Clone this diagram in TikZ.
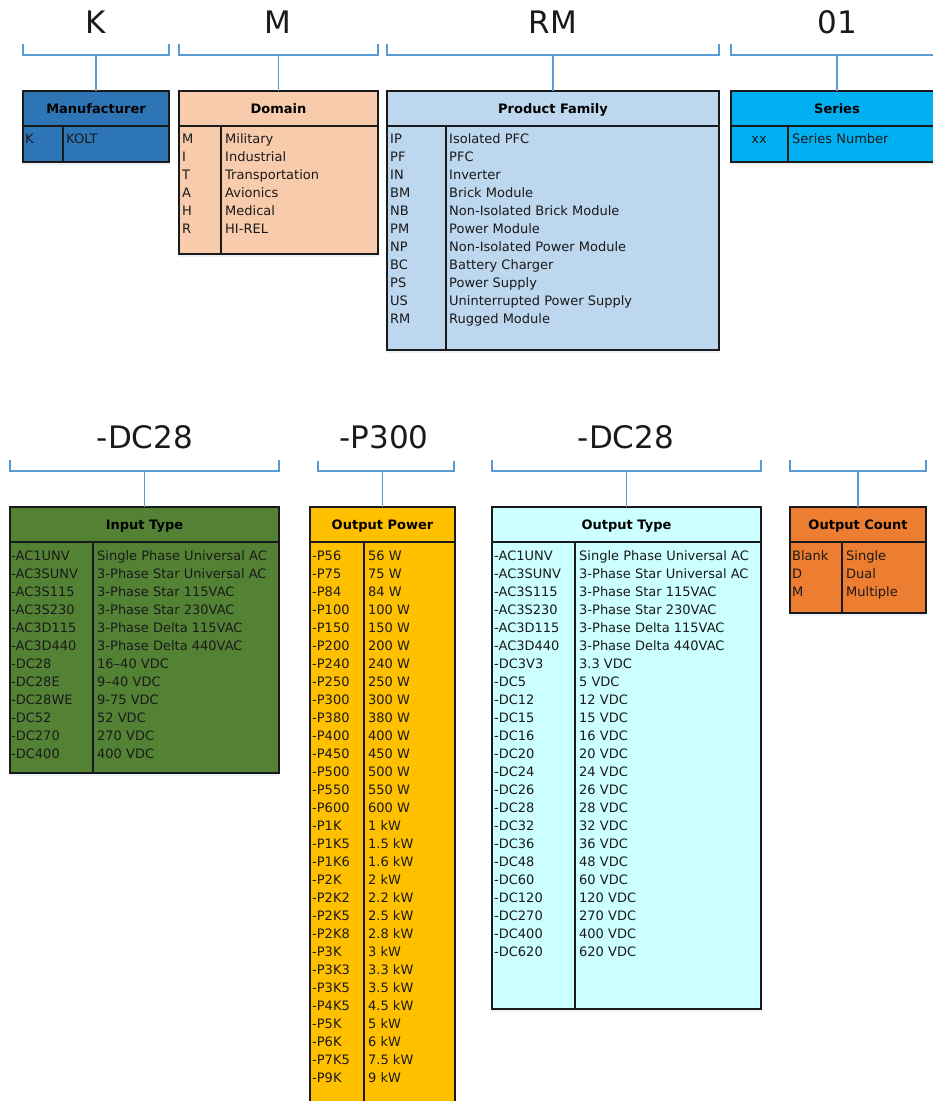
\documentclass[tikz,border=0pt]{standalone}
\usepackage{fontspec}
\setmainfont{DejaVu Sans}
\usetikzlibrary{positioning, shadows}

\definecolor{ink}{HTML}{1A1A1A}
\definecolor{edge}{HTML}{1A1A1A}
\definecolor{brk}{HTML}{5B9BD5}
\definecolor{mfrblue}{HTML}{2E75B6}
\definecolor{dompeach}{HTML}{F8CBAD}
\definecolor{famblue}{HTML}{BDD7EE}
\definecolor{sercyan}{HTML}{00B0F0}
\definecolor{ingreen}{HTML}{548235}
\definecolor{powgold}{HTML}{FFC000}
\definecolor{outcyan}{HTML}{CCFFFF}
\definecolor{cntorange}{HTML}{ED7D31}

\begin{document}
\begin{tikzpicture}[x=1pt, y=-1pt]
    % Styles
    \tikzstyle{partcode} = [font=\fontsize{31}{36}\selectfont, text=ink]
    \tikzstyle{tabhead} = [rectangle, draw=edge, line width=1.5pt, outer sep=0pt, inner sep=0pt, minimum height=35pt, anchor=north west, text height=9.5pt, text depth=0pt, font=\fontsize{13}{15}\selectfont\bfseries]
    \tikzstyle{tabbody} = [rectangle, draw=edge, line width=1.5pt, outer sep=0pt, inner sep=0pt, drop shadow={shadow xshift=0pt, shadow yshift=-3pt, opacity=0.12, fill=brk}]
    \tikzstyle{cell} = [anchor=west, inner sep=0pt, text height=10.5pt, text depth=1.5pt, font=\fontsize{13}{15}\selectfont, text=ink]
    \tikzstyle{divider} = [draw=edge, line width=1.5pt]
    \tikzstyle{bracket} = [draw=brk, line width=1.6pt]

    \clip (0,0) rectangle (933,1101);

    % ---------------- Top row ----------------

    % Manufacturer
    \node[partcode] (mfrCode) at (96,22) {K};
    \node[tabhead, fill=mfrblue, minimum width=146pt] (mfrHead) at (23,91) {Manufacturer};
    \node[tabbody, fill=mfrblue, minimum width=146pt, minimum height=36pt, below=0pt of mfrHead] (mfrBody) {};
    \draw[divider] ([xshift=40pt]mfrBody.north west) -- ([xshift=40pt]mfrBody.south west);
    \node[cell] (mfr-c-1) at (25,139) {K};
    \node[cell] (mfr-d-1) at (66,139) {KOLT};

    % Domain
    \node[partcode] (domCode) at (278,22) {M};
    \node[tabhead, fill=dompeach, minimum width=199pt] (domHead) at (179,91) {Domain};
    \node[tabbody, fill=dompeach, minimum width=199pt, minimum height=128pt, below=0pt of domHead] (domBody) {};
    \draw[divider] ([xshift=42pt]domBody.north west) -- ([xshift=42pt]domBody.south west);
    \foreach \c/\d [count=\i] in {M/Military, I/Industrial, T/Transportation, A/Avionics, H/Medical, R/HI-REL} {
        \node[cell] (dom-c-\i) at (182,{121+18*\i}) {\c};
        \node[cell] (dom-d-\i) at (225,{121+18*\i}) {\d};
    }

    % Product Family
    \node[partcode] (famCode) at (553,22) {RM};
    \node[tabhead, fill=famblue, minimum width=332pt] (famHead) at (387,91) {Product Family};
    \node[tabbody, fill=famblue, minimum width=332pt, minimum height=224pt, below=0pt of famHead] (famBody) {};
    \draw[divider] ([xshift=59pt]famBody.north west) -- ([xshift=59pt]famBody.south west);
    \foreach \c/\d [count=\i] in {IP/Isolated PFC, PF/PFC, IN/Inverter, BM/Brick Module, NB/Non-Isolated Brick Module, PM/Power Module, NP/Non-Isolated Power Module, BC/Battery Charger, PS/Power Supply, US/Uninterrupted Power Supply, RM/Rugged Module} {
        \node[cell] (fam-c-\i) at (390,{121+18*\i}) {\c};
        \node[cell] (fam-d-\i) at (449,{121+18*\i}) {\d};
    }

    % Series
    \node[partcode] (serCode) at (837,22) {01};
    \node[tabhead, fill=sercyan, minimum width=212pt] (serHead) at (731,91) {Series};
    \node[tabbody, fill=sercyan, minimum width=212pt, minimum height=36pt, below=0pt of serHead] (serBody) {};
    \draw[divider] ([xshift=57pt]serBody.north west) -- ([xshift=57pt]serBody.south west);
    \node[cell, anchor=center] (ser-c-1) at (759,139) {xx};
    \node[cell] (ser-d-1) at (792,139) {Series Number};

    % ---------------- Bottom row ----------------

    % Input Type
    \node[partcode] (inCode) at (145,437) {-DC28};
    \node[tabhead, fill=ingreen, minimum width=269pt] (inHead) at (10,507) {Input Type};
    \node[tabbody, fill=ingreen, minimum width=269pt, minimum height=231pt, below=0pt of inHead] (inBody) {};
    \draw[divider] ([xshift=83pt]inBody.north west) -- ([xshift=83pt]inBody.south west);
    \foreach \c/\d [count=\i] in {-AC1UNV/Single Phase Universal AC, -AC3SUNV/3-Phase Star Universal AC, -AC3S115/3-Phase Star 115VAC, -AC3S230/3-Phase Star 230VAC, -AC3D115/3-Phase Delta 115VAC, -AC3D440/3-Phase Delta 440VAC, -DC28/16–40 VDC, -DC28E/9–40 VDC, -DC28WE/9-75 VDC, -DC52/52 VDC, -DC270/270 VDC, -DC400/400 VDC} {
        \node[cell] (in-c-\i) at (11,{538+18*\i}) {\c};
        \node[cell] (in-d-\i) at (97,{538+18*\i}) {\d};
    }

    % Output Power
    \node[partcode] (powCode) at (384,437) {-P300};
    \node[tabhead, fill=powgold, minimum width=145pt] (powHead) at (310,507) {Output Power};
    \node[tabbody, fill=powgold, minimum width=145pt, minimum height=578pt, below=0pt of powHead] (powBody) {};
    \draw[divider] ([xshift=54pt]powBody.north west) -- ([xshift=54pt]powBody.south west);
    \foreach \c/\d [count=\i] in {-P56/56 W, -P75/75 W, -P84/84 W, -P100/100 W, -P150/150 W, -P200/200 W, -P240/240 W, -P250/250 W, -P300/300 W, -P380/380 W, -P400/400 W, -P450/450 W, -P500/500 W, -P550/550 W, -P600/600 W, -P1K/1 kW, -P1K5/1.5 kW, -P1K6/1.6 kW, -P2K/2 kW, -P2K2/2.2 kW, -P2K5/2.5 kW, -P2K8/2.8 kW, -P3K/3 kW, -P3K3/3.3 kW, -P3K5/3.5 kW, -P4K5/4.5 kW, -P5K/5 kW, -P6K/6 kW, -P7K5/7.5 kW, -P9K/9 kW} {
        \node[cell] (pow-c-\i) at (312,{538+18*\i}) {\c};
        \node[cell] (pow-d-\i) at (368,{538+18*\i}) {\d};
    }

    % Output Type
    \node[partcode] (outCode) at (626,437) {-DC28};
    \node[tabhead, fill=outcyan, minimum width=269pt] (outHead) at (492,507) {Output Type};
    \node[tabbody, fill=outcyan, minimum width=269pt, minimum height=467pt, below=0pt of outHead] (outBody) {};
    \draw[divider] ([xshift=83pt]outBody.north west) -- ([xshift=83pt]outBody.south west);
    \foreach \c/\d [count=\i] in {-AC1UNV/Single Phase Universal AC, -AC3SUNV/3-Phase Star Universal AC, -AC3S115/3-Phase Star 115VAC, -AC3S230/3-Phase Star 230VAC, -AC3D115/3-Phase Delta 115VAC, -AC3D440/3-Phase Delta 440VAC, -DC3V3/3.3 VDC, -DC5/5 VDC, -DC12/12 VDC, -DC15/15 VDC, -DC16/16 VDC, -DC20/20 VDC, -DC24/24 VDC, -DC26/26 VDC, -DC28/28 VDC, -DC32/32 VDC, -DC36/36 VDC, -DC48/48 VDC, -DC60/60 VDC, -DC120/120 VDC, -DC270/270 VDC, -DC400/400 VDC, -DC620/620 VDC} {
        \node[cell] (out-c-\i) at (494,{538+18*\i}) {\c};
        \node[cell] (out-d-\i) at (579,{538+18*\i}) {\d};
    }

    % Output Count
    \node[tabhead, fill=cntorange, minimum width=136pt] (cntHead) at (790,507) {Output Count};
    \node[tabbody, fill=cntorange, minimum width=136pt, minimum height=71pt, below=0pt of cntHead] (cntBody) {};
    \draw[divider] ([xshift=52pt]cntBody.north west) -- ([xshift=52pt]cntBody.south west);
    \foreach \c/\d [count=\i] in {Blank/Single, D/Dual, M/Multiple} {
        \node[cell] (cnt-c-\i) at (792,{538+18*\i}) {\c};
        \node[cell] (cnt-d-\i) at (846,{538+18*\i}) {\d};
    }

    % ---------------- Brackets ----------------
    \foreach \t in {mfr, dom, fam, ser, in, out, cnt} {
        \coordinate (\t Br) at ([yshift=36pt]\t Head.north);
        \draw[bracket] ([yshift=47pt]\t Head.north west) -- ([yshift=36pt]\t Head.north west)
            -- ([yshift=36pt]\t Head.north east) -- ([yshift=47pt]\t Head.north east);
        \draw[bracket] (\t Br) -- (\t Head.north);
    }
    % Output Power bracket is a little narrower than its box
    \coordinate (powBr) at ([yshift=36pt]powHead.north);
    \draw[bracket] ([xshift=8pt, yshift=46pt]powHead.north west) -- ([xshift=8pt, yshift=36pt]powHead.north west)
        -- ([xshift=-1pt, yshift=36pt]powHead.north east) -- ([xshift=-1pt, yshift=46pt]powHead.north east);
    \draw[bracket] (powBr) -- (powHead.north);
\end{tikzpicture}
\end{document}
